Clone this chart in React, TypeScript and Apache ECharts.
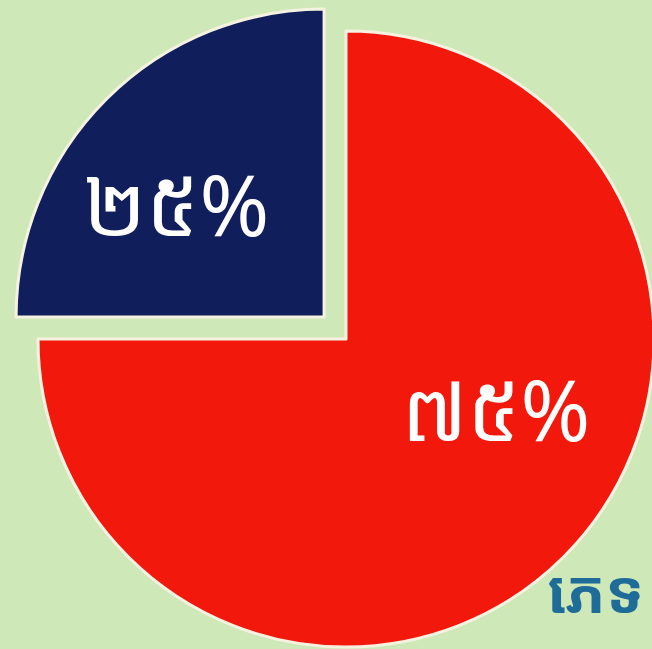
import React, { useEffect, useRef } from "react";
import * as echarts from "echarts";

const categories = ["៧៥%", "២៥%"];
const values = [75, 25];
const sliceColors = ["#f3180c", "#111e5c"];
const footnote = "ភេទ";

export default function App() {
  const ref = useRef<HTMLDivElement>(null);
  useEffect(() => {
    document.body.style.margin = "0";
    const chart = echarts.init(ref.current!, null, { renderer: "svg" });
    chart.setOption({
      animation: false,
      backgroundColor: "#cfe8b8",
      graphic: [
        {
          type: "text",
          left: 547,
          top: 560,
          style: {
            text: footnote,
            fill: "#1e6c98",
            font: "bold 60px 'Noto Sans Khmer', 'Khmer OS', 'Noto Sans', sans-serif",
          },
        },
      ],
      series: [
        {
          type: "pie",
          center: [346, 339],
          radius: [0, 308],
          startAngle: 90,
          clockwise: true,
          selectedMode: "multiple",
          selectedOffset: 31,
          itemStyle: { borderColor: "#f6f2e2", borderWidth: 3 },
          label: {
            show: true,
            position: "inside",
            color: "#ffffff",
            fontSize: 84,
            fontFamily: "'Noto Sans Khmer', 'Khmer OS', 'Noto Sans', sans-serif",
            formatter: "{b}",
          },
          labelLine: { show: false },
          labelLayout: (p: any) =>
            p.dataIndex === 0 ? { dx: 39, dy: -42 } : { dx: -37, dy: -3 },
          emphasis: { disabled: true },
          data: categories.map((c, i) => ({
            name: c,
            value: values[i],
            selected: i === 1,
            itemStyle: { color: sliceColors[i] },
          })),
        },
      ],
    });
    return () => chart.dispose();
  }, []);
  return (
    <div
      ref={ref}
      style={{ position: "absolute", left: 0, top: 0, width: 652, height: 649 }}
    />
  );
}
